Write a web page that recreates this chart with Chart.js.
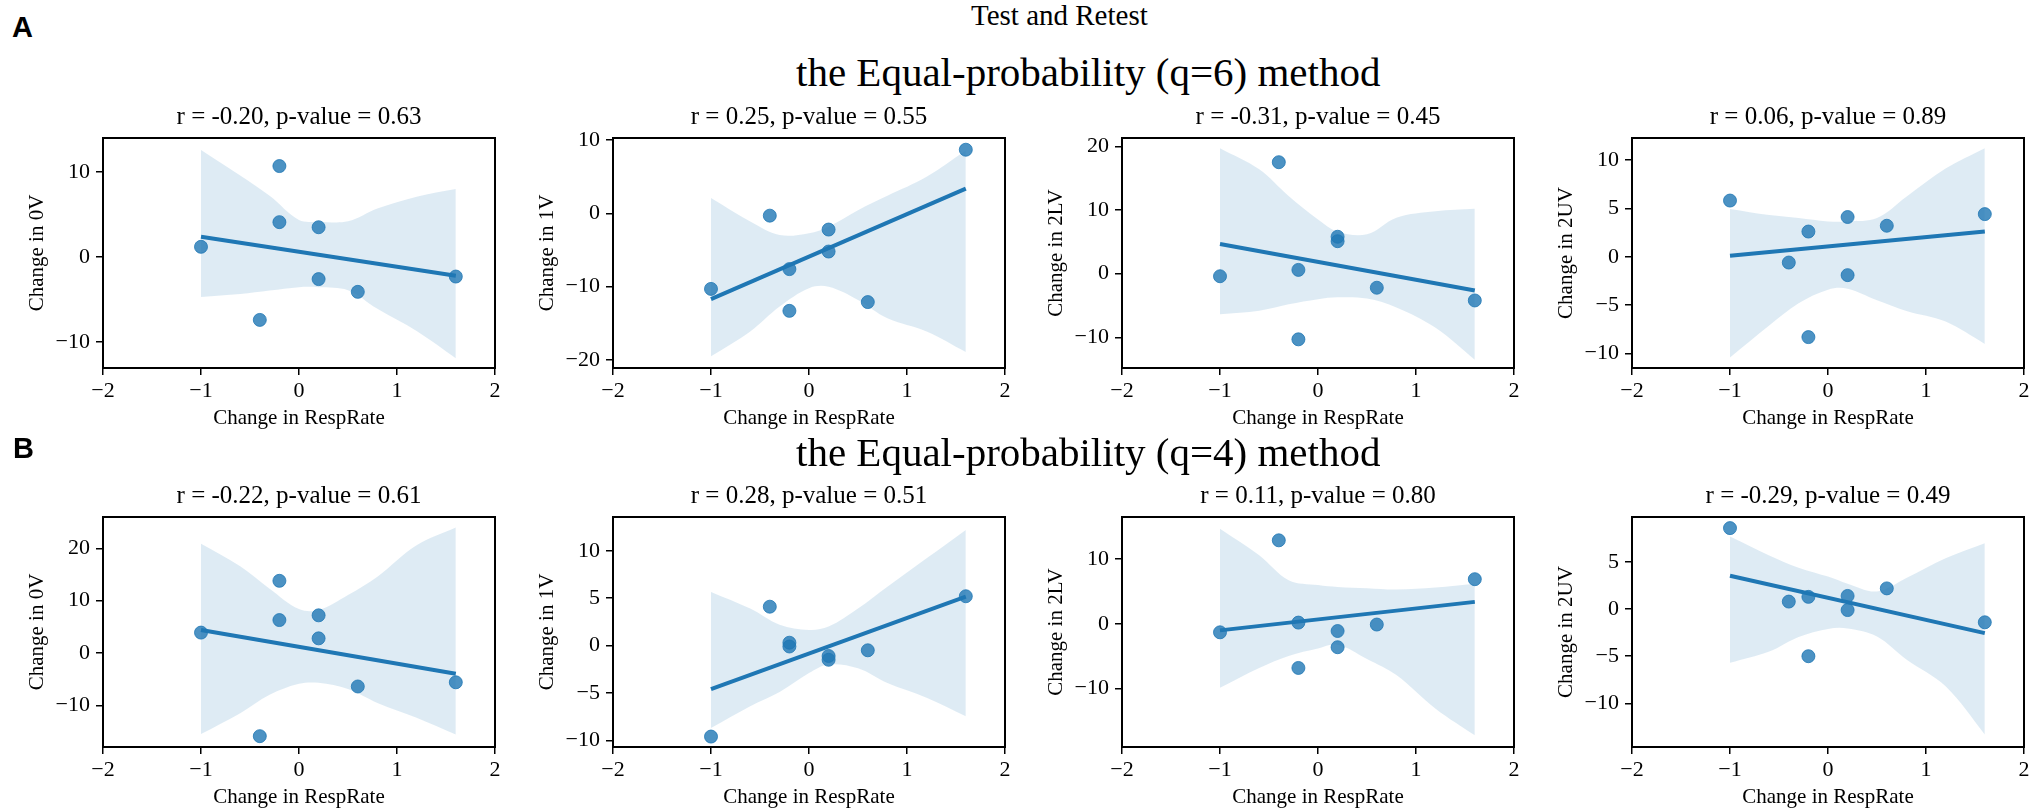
<!DOCTYPE html>
<html>
<head>
<meta charset="utf-8">
<script src="https://cdn.jsdelivr.net/npm/chart.js@4.4.0/dist/chart.umd.min.js"></script>
<style>
html,body{margin:0;padding:0;background:#fff;width:2033px;height:812px;overflow:hidden;}
body{position:relative;}
canvas{position:absolute;}
.txt{position:absolute;white-space:nowrap;line-height:1;color:#000;font-family:'Liberation Serif','Times New Roman',serif;z-index:2;}
.lab{position:absolute;white-space:nowrap;line-height:1;color:#000;font-family:'Liberation Sans',Arial,sans-serif;font-weight:bold;font-size:29px;z-index:2;}
</style>
</head>
<body>
<div class="txt" style="left:971px;top:1px;font-size:29px">Test and Retest</div>
<div class="lab" style="left:12px;top:13px">A</div>
<div class="txt" style="left:796px;top:52px;font-size:41px">the Equal-probability (q=6) method</div>
<div class="lab" style="left:13px;top:434px">B</div>
<div class="txt" style="left:796px;top:432px;font-size:41px">the Equal-probability (q=4) method</div>
<script>
// ---------- data ----------
const respRate = [-1, -0.4, -0.2, -0.2, 0.2, 0.2, 0.6, 1.6];
const xTicks = [-2, -1, 0, 1, 2];
const fitX = [-1, 1.6];
const bandX = [-1, -0.6, -0.3, 0, 0.2, 0.5, 0.8, 1.2, 1.6];

const panelTitles = [
  'r = -0.20, p-value = 0.63', 'r = 0.25, p-value = 0.55', 'r = -0.31, p-value = 0.45', 'r = 0.06, p-value = 0.89',
  'r = -0.22, p-value = 0.61', 'r = 0.28, p-value = 0.51', 'r = 0.11, p-value = 0.80', 'r = -0.29, p-value = 0.49'
];
const yLabels = ['Change in 0V', 'Change in 1V', 'Change in 2LV', 'Change in 2UV'];
const xLabel = 'Change in RespRate';

// q=6 panels
const q6_0V  = [1.2, -7.4, 10.7, 4.1, 3.5, -2.6, -4.1, -2.3];
const q6_1V  = [-10.3, -0.3, -7.6, -13.3, -2.2, -5.2, -12.1, 8.7];
const q6_2LV = [-0.4, 17.5, 0.6, -10.3, 5.8, 5.1, -2.2, -4.2];
const q6_2UV = [5.8, -0.6, 2.6, -8.3, 4.1, -1.9, 3.2, 4.4];
// q=4 panels
const q4_0V  = [3.9, -15.9, 13.8, 6.3, 7.2, 2.8, -6.4, -5.6];
const q4_1V  = [-9.6, 4.1, 0.3, -0.1, -1.1, -1.5, -0.5, 5.2];
const q4_2LV = [-1.3, 12.9, 0.2, -6.8, -1.1, -3.6, -0.1, 6.9];
const q4_2UV = [8.6, 0.8, 1.3, -5.0, 1.4, -0.1, 2.2, -1.4];

// regression line values at fitX
const q6_0V_fit  = [2.37, -2.2];
const q6_1V_fit  = [-11.7, 3.4];
const q6_2LV_fit = [4.65, -2.65];
const q6_2UV_fit = [0.1, 2.6];
const q4_0V_fit  = [4.4, -3.95];
const q4_1V_fit  = [-4.6, 5.15];
const q4_2LV_fit = [-1.0, 3.4];
const q4_2UV_fit = [3.55, -2.55];

// confidence band at bandX
const q6_0V_upper  = [12.6, 9.6, 7.2, 4.35, 4.15, 4.2, 5.7, 7.1, 8.0];
const q6_0V_lower  = [-4.7, -4.35, -3.95, -3.55, -3.55, -3.9, -6.1, -8.7, -11.9];
const q6_1V_upper  = [2.1, -1.1, -2.95, -2.7, -1.8, 0.45, 2.4, 5.0, 8.6];
const q6_1V_lower  = [-19.5, -16.1, -12.7, -10.2, -10.0, -11.8, -14.3, -16.1, -18.9];
const q6_2LV_upper = [19.7, 16.4, 12.2, 8.5, 6.6, 6.2, 8.8, 9.8, 10.2];
const q6_2LV_lower = [-6.35, -5.8, -4.8, -4.0, -3.7, -3.9, -5.3, -8.5, -13.5];
const q6_2UV_upper = [4.93, 4.3, 4.0, 3.65, 3.65, 4.0, 6.2, 9.1, 11.2];
const q6_2UV_lower = [-10.4, -7.1, -4.8, -3.4, -3.3, -4.5, -5.6, -6.7, -9.0];
const q4_0V_upper  = [20.9, 16.6, 12.3, 8.4, 8.2, 11.1, 14.6, 20.6, 24.0];
const q4_0V_lower  = [-15.5, -11.5, -8.0, -5.9, -5.7, -6.9, -9.55, -12.4, -15.6];
const q4_1V_upper  = [5.66, 3.9, 2.2, 1.65, 2.0, 3.9, 6.2, 9.2, 12.2];
const q4_1V_lower  = [-8.7, -6.4, -4.9, -2.9, -2.0, -2.4, -3.95, -5.5, -7.45];
const q4_2LV_upper = [14.7, 10.6, 6.75, 6.0, 5.7, 5.5, 5.3, 5.6, 6.2];
const q4_2LV_lower = [-9.85, -6.8, -4.95, -3.8, -3.2, -5.4, -7.9, -13.1, -17.2];
const q4_2UV_upper = [7.7, 5.7, 4.4, 3.45, 2.7, 1.87, 3.3, 5.4, 7.0];
const q4_2UV_lower = [-5.7, -4.5, -2.95, -2.1, -2.05, -2.9, -5.35, -8.2, -13.3];

// y axis limits and tick labels
const yLimits = [[-13.06, 14.0], [-21.1, 10.3], [-14.8, 21.3], [-11.49, 12.26],
                 [-17.97, 26.0], [-10.7, 13.56], [-19.0, 16.5], [-14.64, 9.78]];
const yTickSets = [[-10, 0, 10], [-20, -10, 0, 10], [-10, 0, 10, 20], [-10, -5, 0, 5, 10],
                   [-10, 0, 10, 20], [-10, -5, 0, 5, 10], [-10, 0, 10], [-10, -5, 0, 5]];

const seriesY = [q6_0V, q6_1V, q6_2LV, q6_2UV, q4_0V, q4_1V, q4_2LV, q4_2UV];
const seriesFit = [q6_0V_fit, q6_1V_fit, q6_2LV_fit, q6_2UV_fit, q4_0V_fit, q4_1V_fit, q4_2LV_fit, q4_2UV_fit];
const seriesUp = [q6_0V_upper, q6_1V_upper, q6_2LV_upper, q6_2UV_upper, q4_0V_upper, q4_1V_upper, q4_2LV_upper, q4_2UV_upper];
const seriesLo = [q6_0V_lower, q6_1V_lower, q6_2LV_lower, q6_2UV_lower, q4_0V_lower, q4_1V_lower, q4_2LV_lower, q4_2UV_lower];

// ---------- layout ----------
const colLeft = [103, 613, 1122, 1632];
const rowTop = [138, 517];
const plotW = 392, plotH = 230;
const yAxisW = 80, titleH = 40, xAxisH = 65, padR = 10;

const FAM = "'Liberation Serif','Times New Roman',serif";
const C0 = '#1f77b4';
const fmt = v => String(v).replace('-', '\u2212');

const framePlugin = {
  id: 'frame',
  afterDatasetsDraw(chart) {
    const {ctx, chartArea: a} = chart;
    ctx.save();
    ctx.strokeStyle = '#000';
    ctx.lineWidth = 2;
    ctx.strokeRect(a.left, a.top, a.right - a.left, a.bottom - a.top);
    ctx.restore();
  }
};

for (let i = 0; i < 8; i++) {
  const row = Math.floor(i / 4), col = i % 4;
  const cv = document.createElement('canvas');
  const W = yAxisW + plotW + padR, H = titleH + plotH + xAxisH;
  cv.width = W; cv.height = H;
  cv.style.width = W + 'px'; cv.style.height = H + 'px';
  cv.style.left = (colLeft[col] - yAxisW) + 'px';
  cv.style.top = (rowTop[row] - titleH) + 'px';
  document.body.appendChild(cv);

  const ys = seriesY[i], fit = seriesFit[i], up = seriesUp[i], lo = seriesLo[i];
  const yt = yTickSets[i];

  new Chart(cv, {
    type: 'scatter',
    data: {
      datasets: [
        { type: 'line', data: fitX.map((x, k) => ({x, y: fit[k]})), borderColor: C0, borderWidth: 4,
          pointRadius: 0, fill: false, order: 0 },
        { type: 'line', data: bandX.map((x, k) => ({x, y: up[k]})), borderColor: 'rgba(0,0,0,0)', borderWidth: 1,
          backgroundColor: 'rgba(31,119,180,0.15)', pointRadius: 0, fill: 2, tension: 0.35, order: 1 },
        { type: 'line', data: bandX.map((x, k) => ({x, y: lo[k]})), borderColor: 'rgba(0,0,0,0)', borderWidth: 1,
          pointRadius: 0, fill: false, tension: 0.35, order: 1 },
        { type: 'scatter', data: respRate.map((x, k) => ({x, y: ys[k]})), backgroundColor: 'rgba(31,119,180,0.8)',
          borderColor: 'rgba(31,119,180,0.8)', borderWidth: 1, pointRadius: 6.5, order: 2 }
      ]
    },
    options: {
      responsive: false,
      animation: false,
      devicePixelRatio: window.devicePixelRatio || 1,
      layout: { padding: { left: 0, right: padR, top: 0, bottom: 0 } },
      plugins: {
        legend: { display: false },
        tooltip: { enabled: false },
        title: { display: true, text: panelTitles[i], fullSize: false, color: '#000',
                 font: { family: FAM, size: 25, weight: 'normal' }, padding: { top: 4, bottom: 6 } }
      },
      scales: {
        x: {
          type: 'linear', min: -2, max: 2,
          afterBuildTicks: s => { s.ticks = xTicks.map(v => ({value: v})); },
          afterFit: s => { s.height = xAxisH; },
          border: { display: false },
          grid: { display: true, drawOnChartArea: false, drawTicks: true, tickLength: 7, color: '#000', lineWidth: 1.5 },
          ticks: { padding: 3, color: '#000', font: { family: FAM, size: 22 }, autoSkip: false, maxRotation: 0,
                   callback: v => fmt(v) },
          title: { display: true, text: xLabel, color: '#000', font: { family: FAM, size: 21 }, padding: { top: 0, bottom: 2 } }
        },
        y: {
          type: 'linear', min: yLimits[i][0], max: yLimits[i][1],
          afterBuildTicks: s => { s.ticks = yt.map(v => ({value: v})); },
          afterFit: s => { s.width = yAxisW; },
          border: { display: false },
          grid: { display: true, drawOnChartArea: false, drawTicks: true, tickLength: 7, color: '#000', lineWidth: 1.5 },
          ticks: { padding: 6, color: '#000', font: { family: FAM, size: 22 }, autoSkip: false,
                   callback: v => fmt(v) },
          title: { display: true, text: yLabels[col], color: '#000', font: { family: FAM, size: 21 }, padding: { top: 1.4, bottom: 0 } }
        }
      }
    },
    plugins: [framePlugin]
  });
}
</script>
</body>
</html>
